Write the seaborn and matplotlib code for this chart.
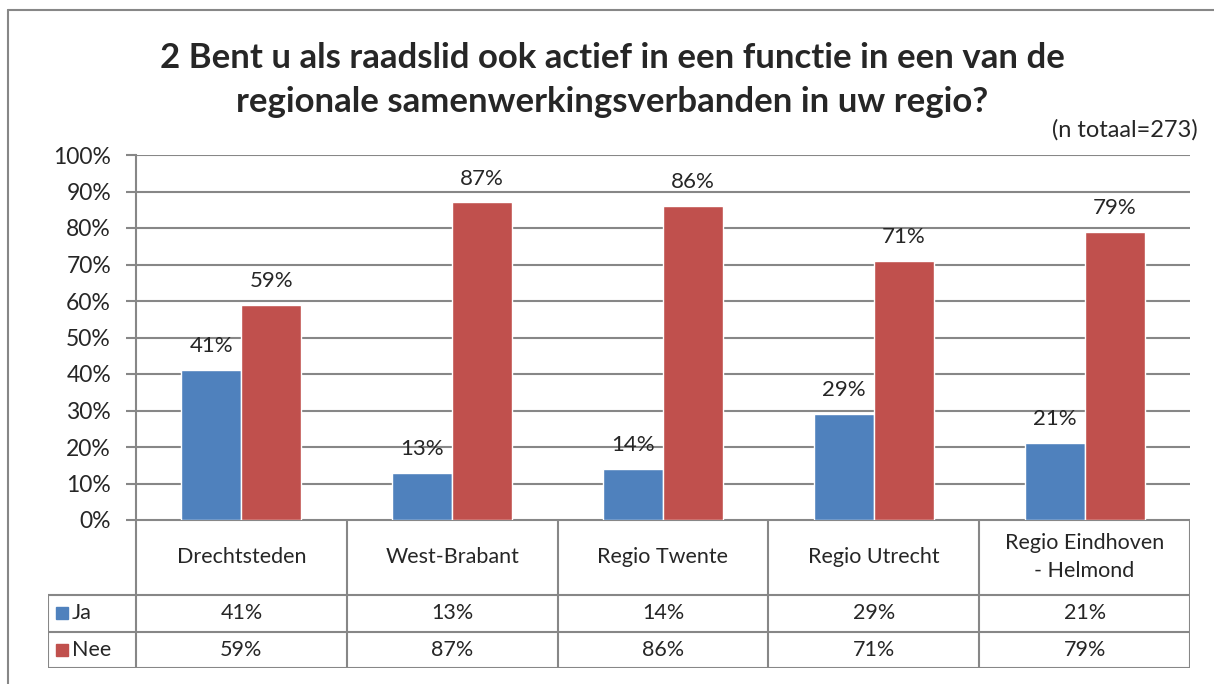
import pandas as pd
import seaborn as sns
import matplotlib.pyplot as plt
from matplotlib.lines import Line2D
from matplotlib.patches import Rectangle
from matplotlib.ticker import PercentFormatter

regions = ['Drechtsteden', 'West-Brabant', 'Regio Twente', 'Regio Utrecht', 'Regio Eindhoven\n- Helmond']
series = ['Ja', 'Nee']
ja = [41, 13, 14, 29, 21]
nee = [59, 87, 86, 71, 79]
colors = ['#4F81BD', '#C0504D']
grey = '#878787'

df = pd.DataFrame({
    'regio': regions * 2,
    'antwoord': ['Ja'] * 5 + ['Nee'] * 5,
    'pct': [v / 100 for v in ja + nee],
})

sns.set_style('white')
plt.rcParams['font.family'] = ['Lato', 'DejaVu Sans']

W, H = 1214, 684
fig = plt.figure(figsize=(W / 100, H / 100), dpi=100)

# plot area in pixels: x 136..1190, y 155..520
ax = fig.add_axes([136 / W, 1 - 520 / H, 1054 / W, 365 / H])
sns.barplot(data=df, x='regio', y='pct', hue='antwoord', palette=colors,
            width=0.57, saturation=1, ax=ax, legend=False, errorbar=None)
ax.set_ylim(0, 1)
ax.set_xlim(-0.5, 4.5)
ax.set_yticks([i / 10 for i in range(11)])
ax.yaxis.set_major_formatter(PercentFormatter(1, decimals=0))
ax.tick_params(axis='y', length=7, width=1.5, color=grey, pad=11, labelsize=16.5, left=True)
ax.set_xticks([])
ax.set_xlabel('')
ax.set_ylabel('')
ax.grid(axis='y', color=grey, linewidth=1.5)
ax.set_axisbelow(True)
for s in ['top', 'right', 'bottom']:
    ax.spines[s].set_visible(False)
ax.spines['left'].set_color(grey)
ax.spines['left'].set_linewidth(1.5)

for cont, vals in zip(ax.containers, [ja, nee]):
    ax.bar_label(cont, labels=[f'{v}%' for v in vals], padding=10, fontsize=16)

# data table below the plot
tab = fig.add_axes([48 / W, 1 - 668 / H, 1142 / W, 148 / H])
x0 = -0.5 - 88 / 210.8
tab.set_xlim(x0, 4.5)
tab.set_ylim(668, 520)
tab.axis('off')
lw = 1.5
for i in range(6):
    tab.add_line(Line2D([i - 0.5, i - 0.5], [520, 668], color=grey, lw=lw))
tab.add_line(Line2D([x0, x0], [595, 668], color=grey, lw=lw))
for yy in [520, 595, 632, 668]:
    tab.add_line(Line2D([x0 if yy != 520 else -0.5, 4.5], [yy, yy], color=grey, lw=lw))
for i, r in enumerate(regions):
    tab.text(i, 557, r, ha='center', va='center', fontsize=15.5, linespacing=1.55)
rows = [(ja, 613.5), (nee, 650)]
for k, (vals, yc) in enumerate(rows):
    for i, v in enumerate(vals):
        tab.text(i, yc, f'{v}%', ha='center', va='center', fontsize=15.5)
    kx = x0 + 8 / 210.8
    tab.add_patch(Rectangle((kx, yc + 6), 12 / 210.8, -12, color=colors[k]))
    tab.text(kx + 16 / 210.8, yc, series[k], ha='left', va='center', fontsize=15.5)

# outer chart border
fig.add_artist(Line2D([8 / W, 8 / W], [0, 1 - 10 / H], color=grey, lw=1.5))
fig.add_artist(Line2D([8 / W, 1], [1 - 10 / H, 1 - 10 / H], color=grey, lw=1.5))

fig.text(612 / W, 1 - 80 / H,
         '2 Bent u als raadslid ook actief in een functie in een van de\n'
         'regionale samenwerkingsverbanden in uw regio?',
         ha='center', va='center', fontsize=25, fontweight='bold', linespacing=1.5)
fig.text(1198 / W, 1 - 130 / H, '(n totaal=273)', ha='right', va='center', fontsize=17)

fig.savefig('out.png', dpi=100)
